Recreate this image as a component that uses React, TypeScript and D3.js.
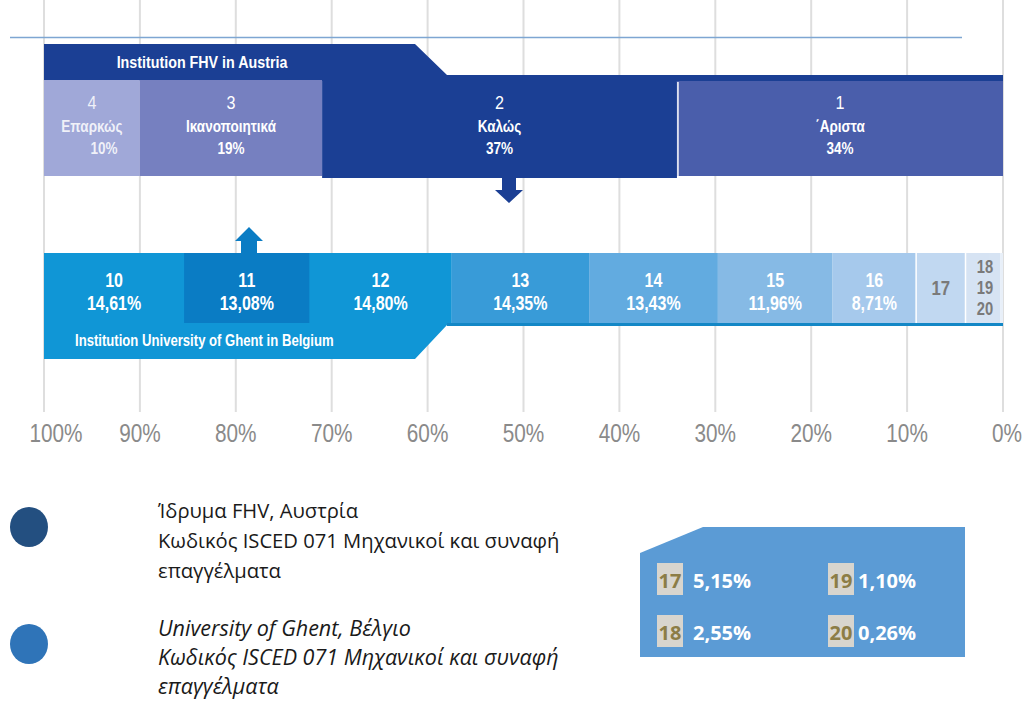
import React from "react";
import * as d3 from "d3";

const axisTicks = [100, 90, 80, 70, 60, 50, 40, 30, 20, 10, 0];

const fhvGrades = ["4", "3", "2", "1"];
const fhvLabels = ["Επαρκώς", "Ικανοποιητικά", "Καλώς", "΄Αριστα"];
const fhvValues = [10, 19, 37, 34];
const fhvColors = ["#a0a8d8", "#7680c0", "#1b3f94", "#4a5eab"];

const ghentGrades = ["10", "11", "12", "13", "14", "15", "16", "17", "18", "19", "20"];
const ghentValues = [14.61, 13.08, 14.8, 14.35, 13.43, 11.96, 8.71, 5.15, 2.55, 1.1, 0.26];
const ghentColors = ["#1096d6", "#0a7cc4", "#1096d6", "#389bd8", "#62abe0", "#86bae5", "#a6c9ec", "#c1d8f1", "#d6e3f3", "#d6e3f3", "#e8eff8"];
const ghentShowPct = [true, true, true, true, true, true, true, false, false, false, false];

const smallGrades = ["17", "18", "19", "20"];
const smallValues = ["5,15%", "2,55%", "1,10%", "0,26%"];

const legendFHV = ["Ίδρυμα FHV, Αυστρία", "Κωδικός ISCED 071 Μηχανικοί και συναφή", "επαγγέλματα"];
const legendGhent = ["University of Ghent, Βέλγιο", "Κωδικός ISCED 071 Μηχανικοί και συναφή", "επαγγέλματα"];

const SANS = "'Liberation Sans', Arial, sans-serif";
const LEG = "'Open Sans', 'Noto Sans', sans-serif";

type NTProps = {
  x: number;
  y: number;
  sx?: number;
  anchor?: "start" | "middle" | "end";
  size: number;
  weight?: string;
  fill: string;
  opacity?: number;
  children: React.ReactNode;
};

function NT({ x, y, sx = 0.8, anchor = "middle", size, weight = "normal", fill, opacity = 1, children }: NTProps) {
  return (
    <text
      transform={`translate(${x},${y}) scale(${sx},1)`}
      textAnchor={anchor}
      dominantBaseline="central"
      fontFamily={SANS}
      fontSize={size}
      fontWeight={weight}
      fill={fill}
      fillOpacity={opacity}
    >
      {children}
    </text>
  );
}

export default function App() {
  const x = d3.scaleLinear().domain([100, 0]).range([44, 1003]);

  const fhvSegs = fhvValues.map((v, i) => {
    const before = d3.sum(fhvValues.slice(0, i));
    return { start: 100 - before, end: 100 - before - v, v, i };
  });
  const ghSegs = ghentValues.map((v, i) => {
    const before = d3.sum(ghentValues.slice(0, i));
    return { start: 100 - before, end: Math.max(0, 100 - before - v), v, i };
  });

  const fmt = (v: number) => v.toFixed(2).replace(".", ",") + "%";

  const fTop = 80, fBot = 176;
  const headerPath = `M${x(100)},44 L415,44 L447,75 L${x(0)},75 L${x(0)},81 L${x(100)},81 Z`;
  const seg2x1 = x(fhvSegs[2].end);
  const arrowCx = 509;

  const gTop = 253, gBot = 323;
  const split = ghSegs[3].start;
  const bandPath = `M${x(100)},${gTop} L${x(split)},${gTop} L${x(split)},325 L447,325 L415,359 L${x(100)},359 Z`;
  const upCx = 249;

  return (
    <svg width={1027} height={702} style={{ position: "absolute", left: 0, top: 0, background: "#fff" }}>
      {axisTicks.map((t) => (
        <line key={"g" + t} x1={x(t)} x2={x(t)} y1={0} y2={412} stroke="#dedede" strokeWidth={2} />
      ))}
      <line x1={10} x2={962} y1={37.5} y2={37.5} stroke="#7ea6d2" strokeWidth={1.5} />

      <path d={headerPath} fill="#1b3f94" />
      <NT x={202} y={62} sx={0.84} size={17} weight="bold" fill="#fff">Institution FHV in Austria</NT>
      {fhvSegs.map((s) => {
        const is2 = s.i === 2;
        const top = s.i === 3 ? 81 : fTop;
        return (
          <rect key={"f" + s.i} x={x(s.start)} y={top} width={x(s.end) - x(s.start)} height={(is2 ? 178 : fBot) - top} fill={fhvColors[s.i]} />
        );
      })}
      <line x1={seg2x1 + 1} x2={seg2x1 + 1} y1={82} y2={fBot} stroke="#fff" strokeWidth={1.5} />
      {fhvSegs.map((s) => {
        const cx = (x(s.start) + x(s.end)) / 2;
        const op = s.i === 0 ? 0.85 : 1;
        return (
          <g key={"fl" + s.i}>
            <NT x={cx} y={103} sx={0.85} size={19} fill="#fff" opacity={op}>{fhvGrades[s.i]}</NT>
            <NT x={cx} y={126} sx={0.82} size={16.5} weight="bold" fill="#fff" opacity={op}>{fhvLabels[s.i]}</NT>
            <NT x={s.i === 0 ? cx + 12 : cx} y={148} sx={0.82} size={16.5} weight="bold" fill="#fff" opacity={op}>{fhvValues[s.i]}%</NT>
          </g>
        );
      })}
      <path d={`M${arrowCx - 7},178 L${arrowCx + 7},178 L${arrowCx + 7},190 L${arrowCx + 14},190 L${arrowCx},203 L${arrowCx - 14},190 L${arrowCx - 7},190 Z`} fill="#1b3f94" />

      <path d={bandPath} fill="#1096d6" />
      {ghSegs.map((s) => (
        <rect key={"gs" + s.i} x={x(s.start)} y={gTop} width={x(s.end) - x(s.start)} height={gBot - gTop} fill={ghentColors[s.i]} />
      ))}
      <rect x={447} y={gBot} width={x(0) - 447} height={3} fill="#1387c6" />
      {ghSegs.slice(6, 8).map((s) => (
        <line key={"sep" + s.i} x1={x(s.end)} x2={x(s.end)} y1={gTop} y2={gBot} stroke="#fff" strokeWidth={1.5} />
      ))}
      <path d={`M${upCx - 8},${gTop} L${upCx - 8},241 L${upCx - 14},241 L${upCx},227 L${upCx + 14},241 L${upCx + 8},241 L${upCx + 8},${gTop} Z`} fill="#0a7cc4" />
      <NT x={75} y={341} anchor="start" sx={0.82} size={16} weight="bold" fill="#fff">Institution University of Ghent in Belgium</NT>
      {ghSegs.filter((s) => ghentShowPct[s.i]).map((s) => {
        const cx = (x(s.start) + x(s.end)) / 2;
        return (
          <g key={"gl" + s.i}>
            <NT x={cx} y={280} sx={0.8} size={20} weight="bold" fill="#fff">{ghentGrades[s.i]}</NT>
            <NT x={cx} y={303} sx={0.8} size={20} weight="bold" fill="#fff">{fmt(s.v)}</NT>
          </g>
        );
      })}
      <NT x={(x(ghSegs[7].start) + x(ghSegs[7].end)) / 2} y={288} sx={0.8} size={21} weight="bold" fill="#7a7a7a">{ghentGrades[7]}</NT>
      {ghentGrades.slice(8).map((g, k) => (
        <NT key={"st" + g} x={985} y={266 + k * 21} sx={0.82} size={18} weight="bold" fill="#7a7a7a">{g}</NT>
      ))}

      {axisTicks.map((t) => (
        <NT key={"a" + t} x={x(t) + (t === 100 ? 12 : t === 0 ? 4 : 0)} y={433} sx={0.83} size={25} fill="#8a8a8a">{t}%</NT>
      ))}

      <ellipse cx={29} cy={527} rx={19} ry={20} fill="#234f80" />
      <ellipse cx={29} cy={644} rx={19} ry={20} fill="#2f74b8" />
      {legendFHV.map((l, k) => (
        <text key={"l1" + k} x={158} y={518 + k * 30} fill="#1a1a1a" fontFamily={LEG} fontSize={20.2}>{l}</text>
      ))}
      {legendGhent.map((l, k) => (
        <text key={"l2" + k} x={158} y={636 + k * 29} fill="#1a1a1a" fontFamily={LEG} fontSize={21.5} fontStyle="italic">{l}</text>
      ))}

      <path d="M640,553 L703,527 L965,527 L965,657 L640,657 Z" fill="#5b9bd5" />
      {smallGrades.map((g, k) => {
        const col = Math.floor(k / 2);
        const row = k % 2;
        const bx = col === 0 ? 657 : 828;
        const by = row === 0 ? 563 : 615;
        return (
          <g key={"sm" + g}>
            <rect x={bx} y={by} width={26} height={32} fill="#d8d5ce" />
            <text x={bx + 13} y={by + 25} textAnchor="middle" fill="#8c7d46" fontFamily={LEG} fontWeight="bold" fontSize={20}>{g}</text>
            <text x={bx + (col === 0 ? 36 : 30)} y={by + 25} fill="#fff" fontFamily={LEG} fontWeight="bold" fontSize={20}>{smallValues[k]}</text>
          </g>
        );
      })}
    </svg>
  );
}
